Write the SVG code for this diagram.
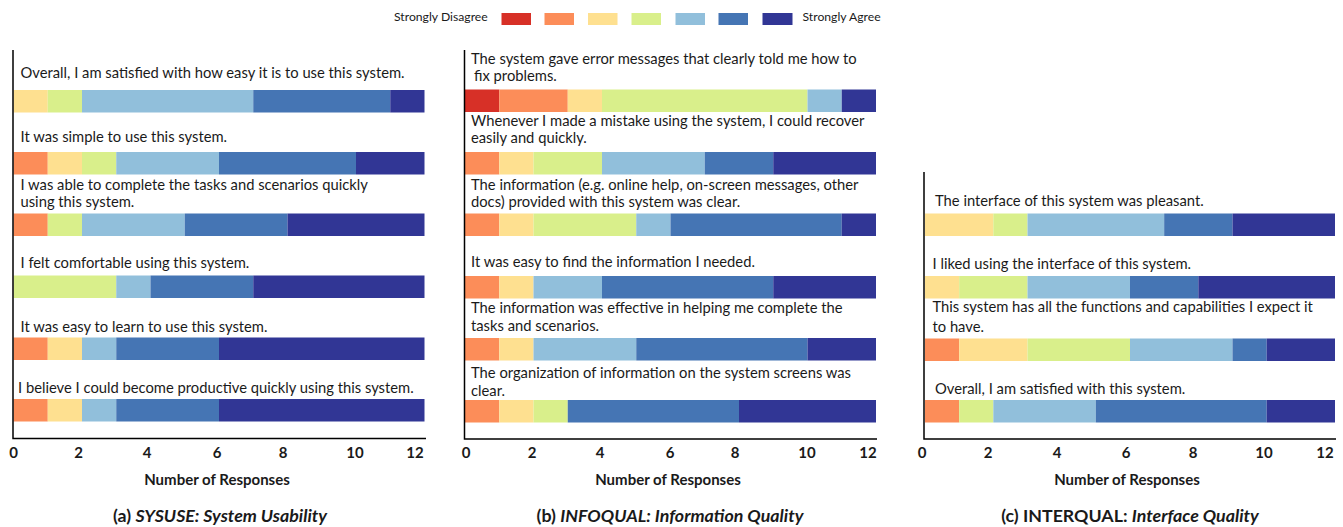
<svg xmlns="http://www.w3.org/2000/svg" width="1343" height="527" viewBox="0 0 1343 527">
<style>
text{font-family:Lato,"Open Sans","Liberation Sans",sans-serif;fill:#1a1a1a}
.lb{font-size:14.75px}
.lg{font-size:12.2px}
.tk{font-size:15px;font-weight:bold;text-anchor:middle}
.xt{font-size:15px;font-weight:bold;text-anchor:middle}
.cap{font-size:17.8px;font-weight:bold;text-anchor:middle}
.ax{stroke:#000;stroke-width:1.5;fill:none}
.c1{fill:#d73027}.c2{fill:#fc8d59}.c3{fill:#fee090}.c4{fill:#d9ef8b}.c5{fill:#91bfdb}.c6{fill:#4575b4}.c7{fill:#313695}
</style>
<rect width="1343" height="527" fill="#fff"/>
<g id="legend">
<text class="lg" x="394" y="21">Strongly Disagree</text>
<rect class="c1" x="501.5" y="13" width="29.5" height="12"/>
<rect class="c2" x="544.5" y="13" width="29.5" height="12"/>
<rect class="c3" x="588" y="13" width="29.5" height="12"/>
<rect class="c4" x="631.5" y="13" width="29.5" height="12"/>
<rect class="c5" x="675.5" y="13" width="29.5" height="12"/>
<rect class="c6" x="718.5" y="13" width="29.5" height="12"/>
<rect class="c7" x="762.5" y="13" width="30" height="12"/>
<text class="lg" x="802.5" y="21">Strongly Agree</text>
</g>
<g id="panel-a">
<g id="a1">
<text class="lb" x="20.5" y="78">Overall, I am satisfied with how easy it is to use this system.</text>
<rect class="c3" x="13.5" y="90" width="34.25" height="22.5"/><rect class="c4" x="47.75" y="90" width="34.25" height="22.5"/><rect class="c5" x="82" y="90" width="171.25" height="22.5"/><rect class="c6" x="253.25" y="90" width="137" height="22.5"/><rect class="c7" x="390.25" y="90" width="34.25" height="22.5"/>
</g>
<g id="a2">
<text class="lb" x="20.5" y="141.5">It was simple to use this system.</text>
<rect class="c2" x="13.5" y="152" width="34.25" height="22.5"/><rect class="c3" x="47.75" y="152" width="34.25" height="22.5"/><rect class="c4" x="82" y="152" width="34.25" height="22.5"/><rect class="c5" x="116.25" y="152" width="102.75" height="22.5"/><rect class="c6" x="219" y="152" width="137" height="22.5"/><rect class="c7" x="356" y="152" width="68.5" height="22.5"/>
</g>
<g id="a3">
<text class="lb" x="20.5" y="190">I was able to complete the tasks and scenarios quickly</text>
<text class="lb" x="20.5" y="207">using this system.</text>
<rect class="c2" x="13.5" y="213.5" width="34.25" height="22.5"/><rect class="c4" x="47.75" y="213.5" width="34.25" height="22.5"/><rect class="c5" x="82" y="213.5" width="102.75" height="22.5"/><rect class="c6" x="184.75" y="213.5" width="102.75" height="22.5"/><rect class="c7" x="287.5" y="213.5" width="137" height="22.5"/>
</g>
<g id="a4">
<text class="lb" x="20.5" y="268">I felt comfortable using this system.</text>
<rect class="c4" x="13.5" y="275.5" width="102.75" height="22.5"/><rect class="c5" x="116.25" y="275.5" width="34.25" height="22.5"/><rect class="c6" x="150.5" y="275.5" width="102.75" height="22.5"/><rect class="c7" x="253.25" y="275.5" width="171.25" height="22.5"/>
</g>
<g id="a5">
<text class="lb" x="20.5" y="331.5">It was easy to learn to use this system.</text>
<rect class="c2" x="13.5" y="337.5" width="34.25" height="22.5"/><rect class="c3" x="47.75" y="337.5" width="34.25" height="22.5"/><rect class="c5" x="82" y="337.5" width="34.25" height="22.5"/><rect class="c6" x="116.25" y="337.5" width="102.75" height="22.5"/><rect class="c7" x="219" y="337.5" width="205.5" height="22.5"/>
</g>
<g id="a6">
<text class="lb" x="18" y="393">I believe I could become productive quickly using this system.</text>
<rect class="c2" x="13.5" y="399" width="34.25" height="22.5"/><rect class="c3" x="47.75" y="399" width="34.25" height="22.5"/><rect class="c5" x="82" y="399" width="34.25" height="22.5"/><rect class="c6" x="116.25" y="399" width="102.75" height="22.5"/><rect class="c7" x="219" y="399" width="205.5" height="22.5"/>
</g>
<g id="a-axis">
<path class="ax" d="M13 50V438.5H426"/>
<text class="tk" x="13.5" y="458">0</text><text class="tk" x="78.5" y="458">2</text><text class="tk" x="147" y="458">4</text><text class="tk" x="217" y="458">6</text><text class="tk" x="283" y="458">8</text><text class="tk" x="355" y="458">10</text><text class="tk" x="415" y="458">12</text>
<text class="xt" x="217" y="485">Number of Responses</text>
<text class="cap" x="220" y="522">(a) <tspan font-style="italic">SYSUSE: System Usability</tspan></text>
</g>
</g>
<g id="panel-b">
<g id="b1">
<text class="lb" x="471" y="63.5">The system gave error messages that clearly told me how to</text>
<text class="lb" x="474" y="81">fix problems.</text>
<rect class="c1" x="465" y="89.5" width="34.25" height="22.5"/><rect class="c2" x="499.25" y="89.5" width="68.5" height="22.5"/><rect class="c3" x="567.75" y="89.5" width="34.25" height="22.5"/><rect class="c4" x="602" y="89.5" width="205.5" height="22.5"/><rect class="c5" x="807.5" y="89.5" width="34.25" height="22.5"/><rect class="c7" x="841.75" y="89.5" width="34.25" height="22.5"/>
</g>
<g id="b2">
<text class="lb" x="471" y="125.5">Whenever I made a mistake using the system, I could recover</text>
<text class="lb" x="471" y="143">easily and quickly.</text>
<rect class="c2" x="465" y="152" width="34.25" height="22.5"/><rect class="c3" x="499.25" y="152" width="34.25" height="22.5"/><rect class="c4" x="533.5" y="152" width="68.5" height="22.5"/><rect class="c5" x="602" y="152" width="102.75" height="22.5"/><rect class="c6" x="704.75" y="152" width="68.5" height="22.5"/><rect class="c7" x="773.25" y="152" width="102.75" height="22.5"/>
</g>
<g id="b3">
<text class="lb" x="471" y="190">The information (e.g. online help, on-screen messages, other</text>
<text class="lb" x="471" y="207">docs) provided with this system was clear.</text>
<rect class="c2" x="465" y="213.5" width="34.25" height="22.5"/><rect class="c3" x="499.25" y="213.5" width="34.25" height="22.5"/><rect class="c4" x="533.5" y="213.5" width="102.75" height="22.5"/><rect class="c5" x="636.25" y="213.5" width="34.25" height="22.5"/><rect class="c6" x="670.5" y="213.5" width="171.25" height="22.5"/><rect class="c7" x="841.75" y="213.5" width="34.25" height="22.5"/>
</g>
<g id="b4">
<text class="lb" x="471" y="267">It was easy to find the information I needed.</text>
<rect class="c2" x="465" y="276" width="34.25" height="22.5"/><rect class="c3" x="499.25" y="276" width="34.25" height="22.5"/><rect class="c5" x="533.5" y="276" width="68.5" height="22.5"/><rect class="c6" x="602" y="276" width="171.25" height="22.5"/><rect class="c7" x="773.25" y="276" width="102.75" height="22.5"/>
</g>
<g id="b5">
<text class="lb" x="471" y="313">The information was effective in helping me complete the</text>
<text class="lb" x="471" y="330.5">tasks and scenarios.</text>
<rect class="c2" x="465" y="338" width="34.25" height="22.5"/><rect class="c3" x="499.25" y="338" width="34.25" height="22.5"/><rect class="c5" x="533.5" y="338" width="102.75" height="22.5"/><rect class="c6" x="636.25" y="338" width="171.25" height="22.5"/><rect class="c7" x="807.5" y="338" width="68.5" height="22.5"/>
</g>
<g id="b6">
<text class="lb" x="471" y="378">The organization of information on the system screens was</text>
<text class="lb" x="471" y="395.5">clear.</text>
<rect class="c2" x="465" y="400" width="34.25" height="22.5"/><rect class="c3" x="499.25" y="400" width="34.25" height="22.5"/><rect class="c4" x="533.5" y="400" width="34.25" height="22.5"/><rect class="c6" x="567.75" y="400" width="171.25" height="22.5"/><rect class="c7" x="739" y="400" width="137" height="22.5"/>
</g>
<g id="b-axis">
<path class="ax" d="M464.5 50V439H877"/>
<text class="tk" x="466" y="458">0</text><text class="tk" x="532" y="458">2</text><text class="tk" x="600" y="458">4</text><text class="tk" x="670" y="458">6</text><text class="tk" x="735" y="458">8</text><text class="tk" x="807" y="458">10</text><text class="tk" x="868" y="458">12</text>
<text class="xt" x="668" y="485">Number of Responses</text>
<text class="cap" x="670" y="522">(b) <tspan font-style="italic">INFOQUAL: Information Quality</tspan></text>
</g>
</g>
<g id="panel-c">
<g id="c1">
<text class="lb" x="935" y="206">The interface of this system was pleasant.</text>
<rect class="c3" x="925" y="213.5" width="68.33" height="22.5"/><rect class="c4" x="993.33" y="213.5" width="34.17" height="22.5"/><rect class="c5" x="1027.5" y="213.5" width="136.67" height="22.5"/><rect class="c6" x="1164.17" y="213.5" width="68.33" height="22.5"/><rect class="c7" x="1232.5" y="213.5" width="102.5" height="22.5"/>
</g>
<g id="c2">
<text class="lb" x="932.5" y="268.5">I liked using the interface of this system.</text>
<rect class="c3" x="925" y="276" width="34.17" height="22.5"/><rect class="c4" x="959.17" y="276" width="68.33" height="22.5"/><rect class="c5" x="1027.5" y="276" width="102.5" height="22.5"/><rect class="c6" x="1130" y="276" width="68.33" height="22.5"/><rect class="c7" x="1198.33" y="276" width="136.67" height="22.5"/>
</g>
<g id="c3">
<text class="lb" x="932.5" y="312">This system has all the functions and capabilities I expect it</text>
<text class="lb" x="932.5" y="332">to have.</text>
<rect class="c2" x="925" y="338.5" width="34.17" height="22.5"/><rect class="c3" x="959.17" y="338.5" width="68.33" height="22.5"/><rect class="c4" x="1027.5" y="338.5" width="102.5" height="22.5"/><rect class="c5" x="1130" y="338.5" width="102.5" height="22.5"/><rect class="c6" x="1232.5" y="338.5" width="34.17" height="22.5"/><rect class="c7" x="1266.67" y="338.5" width="68.33" height="22.5"/>
</g>
<g id="c4">
<text class="lb" x="935" y="393.5">Overall, I am satisfied with this system.</text>
<rect class="c2" x="925" y="400" width="34.17" height="22.5"/><rect class="c4" x="959.17" y="400" width="34.17" height="22.5"/><rect class="c5" x="993.33" y="400" width="102.5" height="22.5"/><rect class="c6" x="1095.83" y="400" width="170.83" height="22.5"/><rect class="c7" x="1266.67" y="400" width="68.33" height="22.5"/>
</g>
<g id="c-axis">
<path class="ax" d="M924 172V439H1336"/>
<text class="tk" x="922" y="458">0</text><text class="tk" x="988" y="458">2</text><text class="tk" x="1057" y="458">4</text><text class="tk" x="1126" y="458">6</text><text class="tk" x="1193" y="458">8</text><text class="tk" x="1264" y="458">10</text><text class="tk" x="1325" y="458">12</text>
<text class="xt" x="1127" y="485">Number of Responses</text>
<text class="cap" x="1130" y="522">(c) INTERQUAL: <tspan font-style="italic">Interface Quality</tspan></text>
</g>
</g>
</svg>
